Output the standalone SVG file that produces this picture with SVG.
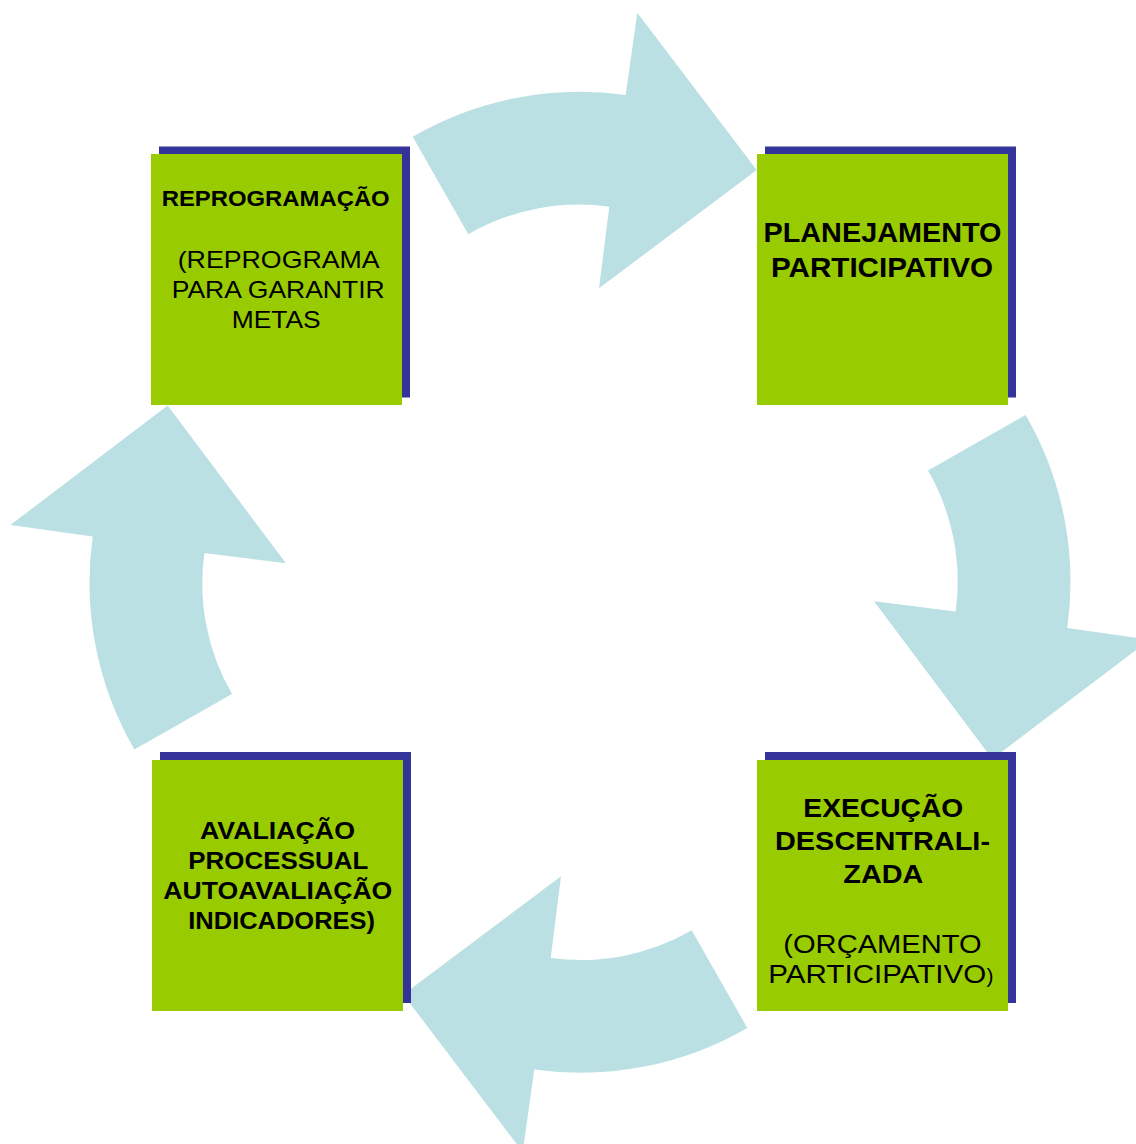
<svg xmlns="http://www.w3.org/2000/svg" width="1136" height="1144" viewBox="0 0 1136 1144">
<style>
.arrow{fill:#BBE0E3}
.shadow{fill:#333399}
.box{fill:#99CC00}
text{font-family:"Liberation Sans",Arial,sans-serif;fill:#000}
.b{font-weight:bold}
</style>
<defs>
<path id="arc" d="M412.7,136.7 A333,333 0 0 1 625.7,95 L637.3,12.7 L756.7,170 L599,288.3 L609.3,206.7 A221,221 0 0 0 468.3,234.3 Z"/>
</defs>
<rect width="1136" height="1144" fill="#fff"/>
<g id="connectors">
<use href="#arc" class="arrow"/>
<use href="#arc" class="arrow" transform="rotate(90 580 582.3)"/>
<use href="#arc" class="arrow" transform="rotate(180 580 582.3)"/>
<use href="#arc" class="arrow" transform="rotate(270 580 582.3)"/>
</g>
<g id="reprogramacao">
<rect class="shadow" x="159" y="146.5" width="251" height="251"/>
<rect class="box" x="151" y="154" width="251" height="251"/>
<text class="b" x="161.7" y="206" font-size="22.5" textLength="228" lengthAdjust="spacingAndGlyphs">REPROGRAMAÇÃO</text>
<text x="177.7" y="268.3" font-size="24.5" textLength="202" lengthAdjust="spacingAndGlyphs">(REPROGRAMA</text>
<text x="171.7" y="298.3" font-size="24.5" textLength="213" lengthAdjust="spacingAndGlyphs">PARA GARANTIR</text>
<text x="231.7" y="328.3" font-size="24.5" textLength="89" lengthAdjust="spacingAndGlyphs">METAS</text>
</g>
<g id="planejamento">
<rect class="shadow" x="765" y="146.5" width="251" height="251"/>
<rect class="box" x="757" y="154" width="251" height="251"/>
<text class="b" x="763.5" y="241.5" font-size="28.5" textLength="238" lengthAdjust="spacingAndGlyphs">PLANEJAMENTO</text>
<text class="b" x="771" y="276.5" font-size="28.5" textLength="222" lengthAdjust="spacingAndGlyphs">PARTICIPATIVO</text>
</g>
<g id="execucao">
<rect class="shadow" x="765" y="752" width="251" height="251"/>
<rect class="box" x="757" y="760" width="251" height="251"/>
<text class="b" x="803.3" y="817.3" font-size="25" textLength="160" lengthAdjust="spacingAndGlyphs">EXECUÇÃO</text>
<text class="b" x="775" y="850" font-size="25" textLength="215" lengthAdjust="spacingAndGlyphs">DESCENTRALI-</text>
<text class="b" x="843.3" y="883.3" font-size="25" textLength="80" lengthAdjust="spacingAndGlyphs">ZADA</text>
<text x="783.3" y="953.3" font-size="25" textLength="198.3" lengthAdjust="spacingAndGlyphs">(ORÇAMENTO</text>
<text x="768.3" y="983.3" font-size="25"><tspan textLength="218" lengthAdjust="spacingAndGlyphs">PARTICIPATIVO</tspan><tspan x="986.5" font-size="21">)</tspan></text>
</g>
<g id="avaliacao">
<rect class="shadow" x="160" y="752" width="251" height="251"/>
<rect class="box" x="152" y="760" width="251" height="251"/>
<text class="b" x="200" y="839.3" font-size="23.5" textLength="155" lengthAdjust="spacingAndGlyphs">AVALIAÇÃO</text>
<text class="b" x="188.3" y="869.3" font-size="23.5" textLength="180" lengthAdjust="spacingAndGlyphs">PROCESSUAL</text>
<text class="b" x="163.3" y="899.3" font-size="23.5" textLength="229" lengthAdjust="spacingAndGlyphs">AUTOAVALIAÇÃO</text>
<text class="b" x="188.3" y="929" font-size="23.5" textLength="186.7" lengthAdjust="spacingAndGlyphs">INDICADORES)</text>
</g>
</svg>
